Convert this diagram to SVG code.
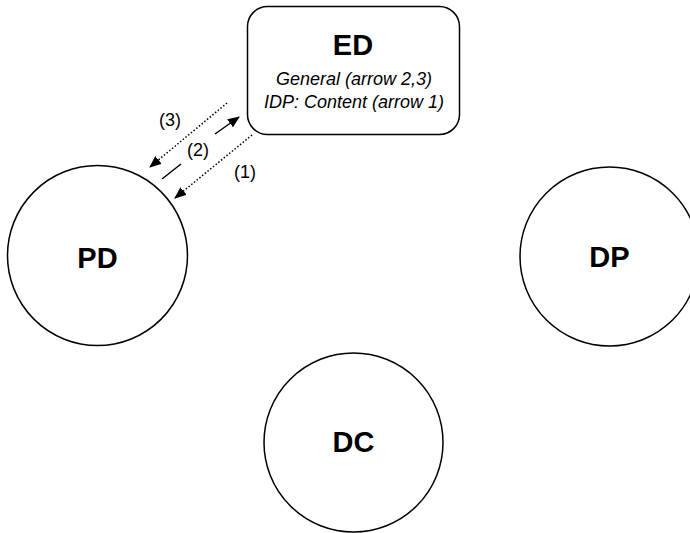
<svg xmlns="http://www.w3.org/2000/svg" width="690" height="533" viewBox="0 0 690 533">
<defs>
<style>
.n{fill:#fff;stroke:#000;stroke-width:1.5}
.t{font-family:"Liberation Sans",Arial,sans-serif;font-weight:bold;font-size:29px;text-anchor:middle}
.s{font-family:"Liberation Sans",Arial,sans-serif;font-style:italic;font-size:18px;text-anchor:middle}
.l{font-family:"Liberation Sans",Arial,sans-serif;font-size:18px;text-anchor:middle}
.dot{stroke:#000;stroke-width:1.5;stroke-dasharray:1.5 2;fill:none}
.sol{stroke:#000;stroke-width:1.5;fill:none}
</style>
<marker id="ah" markerWidth="12" markerHeight="10" refX="11" refY="5" orient="auto" markerUnits="userSpaceOnUse">
<path d="M0,0 L12,5 L0,10 z" fill="#000"/>
</marker>
</defs>
<g id="ED">
<rect class="n" x="247.5" y="6.5" width="212" height="128" rx="20"/>
<text class="t" x="353" y="55">ED</text>
<text class="s" x="354" y="85">General (arrow 2,3)</text>
<text class="s" x="354" y="108">IDP: Content (arrow 1)</text>
</g>
<g id="PD">
<circle class="n" cx="97.5" cy="255.5" r="90"/>
<text class="t" x="97.5" y="268">PD</text>
</g>
<g id="DP">
<circle class="n" cx="609.5" cy="256.5" r="89.5"/>
<text class="t" x="609.5" y="267">DP</text>
</g>
<g id="DC">
<circle class="n" cx="353.5" cy="442.5" r="89.5"/>
<text class="t" x="353.5" y="452">DC</text>
</g>
<g id="connectors">
<line class="dot" x1="227" y1="103" x2="150" y2="167" marker-end="url(#ah)"/>
<line class="sol" x1="162" y1="179" x2="181" y2="164"/>
<line class="sol" x1="215" y1="134" x2="239" y2="117" marker-end="url(#ah)"/>
<line class="dot" x1="252" y1="135" x2="175" y2="198" marker-end="url(#ah)"/>
<text class="l" x="170" y="126">(3)</text>
<text class="l" x="198" y="156">(2)</text>
<text class="l" x="245" y="178">(1)</text>
</g>
</svg>
